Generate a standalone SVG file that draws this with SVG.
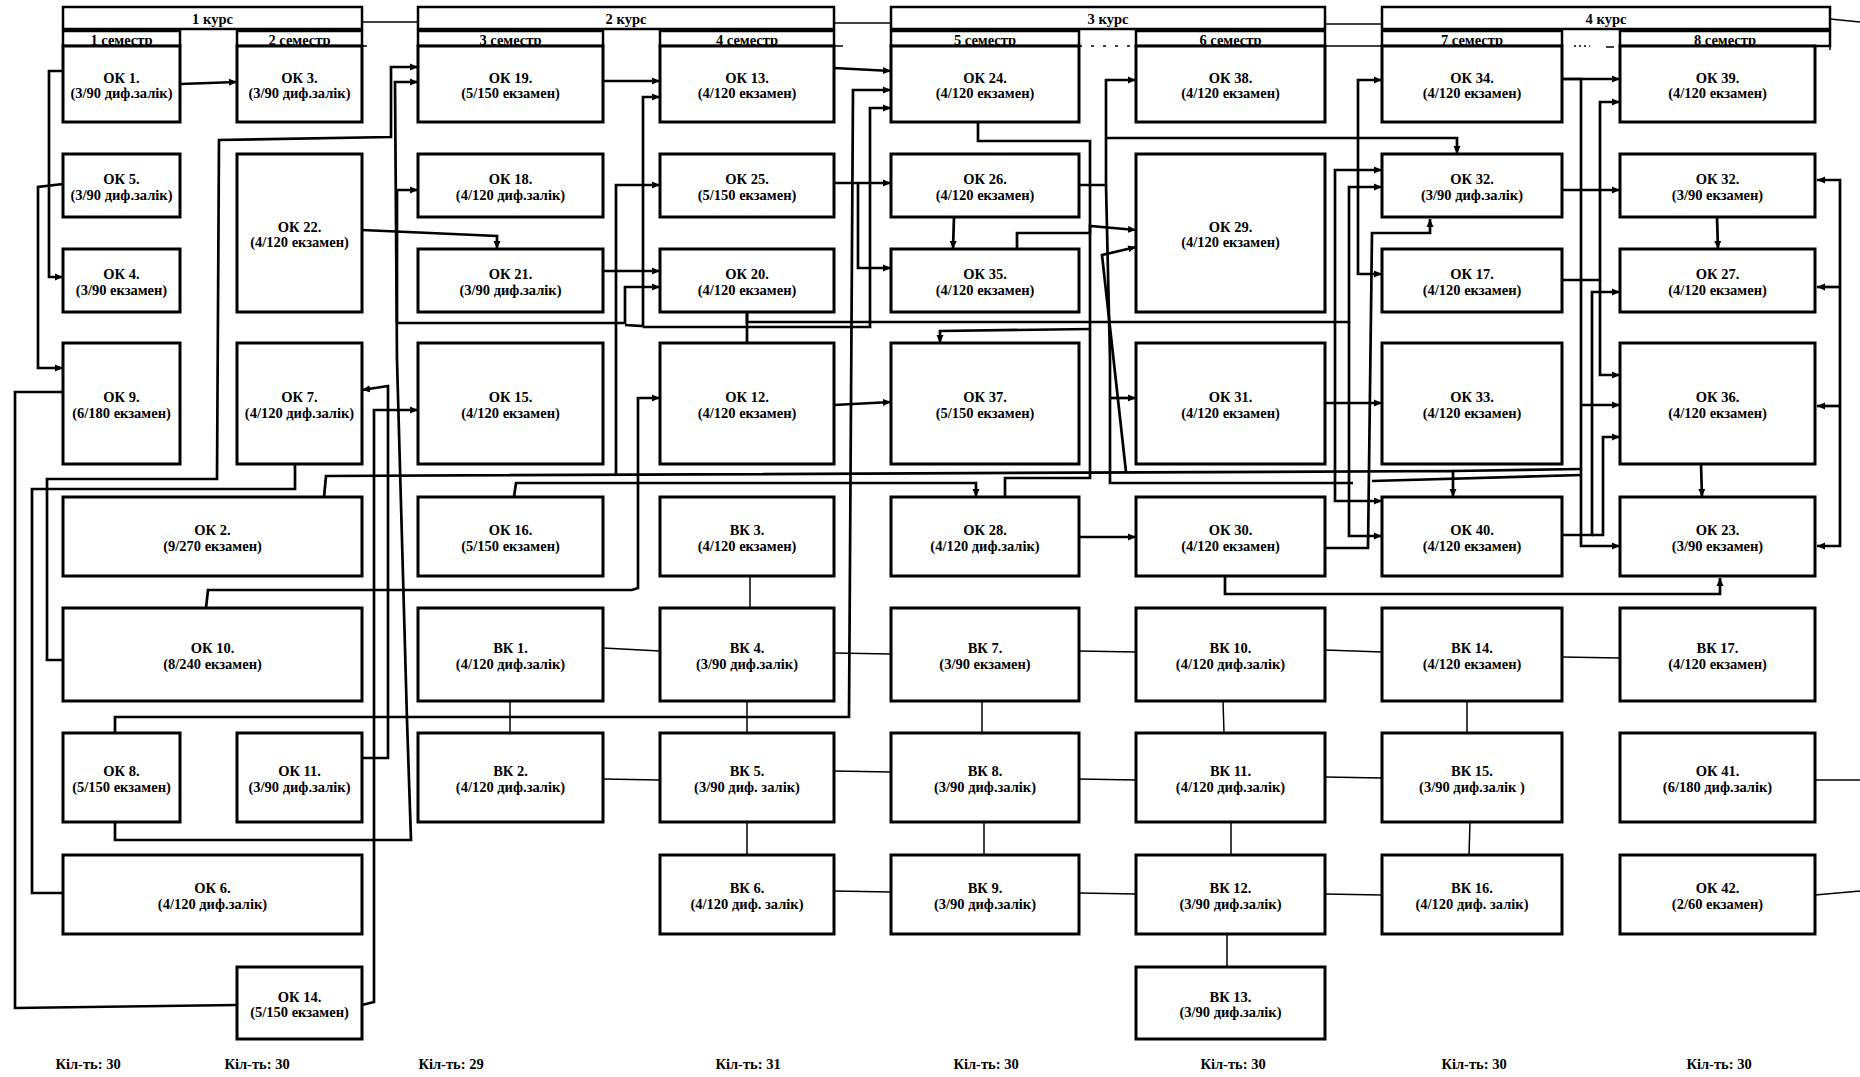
<svg xmlns="http://www.w3.org/2000/svg" width="1860" height="1077" viewBox="0 0 1860 1077">
<style>
.bg{fill:#fff}
.n{fill:#fff;stroke:#000;stroke-width:3}
.h{fill:#fff;stroke:#000;stroke-width:2.5}
.t{font-family:"Liberation Serif","DejaVu Serif",serif;font-weight:bold;font-size:14.5px;text-anchor:middle;fill:#000}
.c{fill:none;stroke:#000;stroke-width:2.7;stroke-linejoin:miter}
.a{fill:none;stroke:#000;stroke-width:2.7;marker-end:url(#ar)}
.l{fill:none;stroke:#000;stroke-width:1.5}
</style>
<defs>
<marker id="ar" markerUnits="userSpaceOnUse" viewBox="0 0 8 8" refX="8" refY="4" markerWidth="8" markerHeight="8" orient="auto">
<path d="M0,0.5 L8,4 L0,7.5 z" fill="#000"/>
</marker>
</defs>
<rect class="bg" x="0" y="0" width="1860" height="1077"/>

<g id="headers">
<line class="l" x1="362" y1="22" x2="418" y2="22"/>
<line class="l" x1="834" y1="23" x2="891" y2="23"/>
<line class="l" x1="1325" y1="24" x2="1382" y2="24"/>
<line class="l" x1="1830" y1="19" x2="1860" y2="22"/>
<line class="l" x1="362" y1="46" x2="367" y2="46"/>
<line class="l" x1="834" y1="46" x2="843" y2="46"/>
<line class="l" x1="1079" y1="46" x2="1136" y2="46" stroke-dasharray="3,9"/>
<line class="l" x1="1325" y1="46" x2="1382" y2="46"/>
<line class="l" x1="1574" y1="46" x2="1590" y2="46" stroke-dasharray="2,3"/>
<line class="l" x1="1606" y1="47" x2="1614" y2="47"/>
<line class="l" x1="1830" y1="31" x2="1830" y2="50"/>
<g id="kurs1"><rect class="h" x="63" y="7" width="299" height="22"/><text class="t" x="212.5" y="24">1 курс</text></g>
<g id="kurs2"><rect class="h" x="418" y="7" width="416" height="22"/><text class="t" x="626" y="24">2 курс</text></g>
<g id="kurs3"><rect class="h" x="891" y="7" width="434" height="22"/><text class="t" x="1108" y="24">3 курс</text></g>
<g id="kurs4"><rect class="h" x="1382" y="7" width="448" height="22"/><text class="t" x="1606" y="24">4 курс</text></g>
<g id="sem1"><rect class="h" x="63" y="31" width="117" height="15"/><text class="t" x="121.5" y="44.5">1 семестр</text></g>
<g id="sem2"><rect class="h" x="237" y="31" width="125" height="15"/><text class="t" x="299.5" y="44.5">2 семестр</text></g>
<g id="sem3"><rect class="h" x="418" y="31" width="185" height="15"/><text class="t" x="510.5" y="44.5">3 семестр</text></g>
<g id="sem4"><rect class="h" x="660" y="31" width="174" height="15"/><text class="t" x="747" y="44.5">4 семестр</text></g>
<g id="sem5"><rect class="h" x="891" y="31" width="188" height="15"/><text class="t" x="985" y="44.5">5 семестр</text></g>
<g id="sem6"><rect class="h" x="1136" y="31" width="189" height="15"/><text class="t" x="1230.5" y="44.5">6 семестр</text></g>
<g id="sem7"><rect class="h" x="1382" y="31" width="180" height="15"/><text class="t" x="1472" y="44.5">7 семестр</text></g>
<g id="sem8"><rect class="h" x="1620" y="31" width="210" height="15"/><text class="t" x="1725" y="44.5">8 семестр</text></g>
</g>

<g id="connectors">
<path class="a" d="M63,71 H49 V277 H63"/>
<path class="a" d="M180,84 L237,82"/>
<path class="a" d="M63,184 L38,187 V368 H63"/>
<path class="c" d="M63,392 H15 V1008 L237,1005"/>
<path class="a" d="M63,660 H47 V479 H217 L219,140 L391,137 V67 H418"/>
<path class="c" d="M295,464 V489 H32 V893 H63"/>
<path class="a" d="M362,230 L497,236 V249"/>
<path class="a" d="M362,758 H388 V386 L362,390"/>
<path class="a" d="M362,1005 L374,1002 V410 H418"/>
<path class="a" d="M115,822 V840 H411 L407,720 L397,360 L395,82 H418"/>
<path class="a" d="M115,733 V717 H849 L853,90 H891"/>
<path class="a" d="M324,497 L326,476 L1453,471 V497"/>
<path class="a" d="M616,476 V185 H660"/>
<path class="c" d="M1453,471 L1581,469"/>
<path class="a" d="M514,497 L516,483 H976 V497"/>
<path class="a" d="M397,323 V190 H418"/>
<path class="a" d="M397,323 H625 V287 H660"/>
<path class="a" d="M625,325 L643,326 V97 H660"/>
<path class="a" d="M643,327 H870 V108 H891"/>
<path class="a" d="M603,81 H660"/>
<path class="a" d="M603,271 H660"/>
<path class="a" d="M206,608 L208,590 H632 L638,588 V398 H660"/>
<path class="a" d="M834,68 L891,71"/>
<path class="a" d="M834,183 H891"/>
<path class="a" d="M858,183 V268 H891"/>
<path class="a" d="M834,405 L891,402"/>
<path class="c" d="M747,312 V343"/>
<path class="a" d="M747,312 V322 H1349 V187 H1382"/>
<path class="a" d="M1349,322 V536 H1382"/>
<path class="a" d="M954,217 L953,249"/>
<path class="c" d="M978,122 V141 H1090 V478 H1005 V497"/>
<path class="a" d="M1017,249 V233 H1090 V226 L1136,230"/>
<path class="a" d="M1090,329 L940,331 V343"/>
<path class="a" d="M1126,472 L1102,255 L1136,247"/>
<path class="a" d="M1079,185 H1106 V80 H1136"/>
<path class="a" d="M1106,138 H1457 V154"/>
<path class="c" d="M1106,185 L1110,360 V483 H1353"/>
<path class="a" d="M1110,398 H1136"/>
<path class="a" d="M1079,537 H1136"/>
<path class="a" d="M1225,576 V594 H1720 V578"/>
<path class="a" d="M1325,403 H1382"/>
<path class="a" d="M1325,548 H1368 L1372,233 H1430 V219"/>
<path class="a" d="M1335,322 V170 H1382"/>
<path class="a" d="M1335,322 V501 H1382"/>
<path class="a" d="M1358,177 V80 H1382"/>
<path class="a" d="M1358,177 V274 H1382"/>
<path class="c" d="M1372,481 L1582,475"/>
<path class="a" d="M1562,79 H1620"/>
<path class="a" d="M1562,79 H1581 V546 H1620"/>
<path class="a" d="M1581,405 H1620"/>
<path class="a" d="M1562,280 H1600 V102 H1620"/>
<path class="a" d="M1600,280 V375 H1620"/>
<path class="a" d="M1562,190 H1620"/>
<path class="a" d="M1717,217 L1718,249"/>
<path class="a" d="M1701,464 L1702,497"/>
<path class="a" d="M1840,360 V180 H1817"/>
<path class="a" d="M1840,360 V546 H1817"/>
<path class="a" d="M1840,287 H1817"/>
<path class="a" d="M1840,406 H1817"/>
<path class="a" d="M1562,535 H1592 V292 H1620"/>
<path class="a" d="M1592,535 H1603 V437 H1620"/>
<path class="l" d="M510,701 V733"/>
<path class="l" d="M603,648 L660,651"/>
<path class="l" d="M750,576 V608"/>
<path class="l" d="M834,653 L891,654"/>
<path class="l" d="M1079,651 L1136,652"/>
<path class="l" d="M1325,650 L1382,652"/>
<path class="l" d="M1562,657 L1620,658"/>
<path class="l" d="M747,701 V733"/>
<path class="l" d="M982,701 V733"/>
<path class="l" d="M1223,701 L1224,733"/>
<path class="l" d="M1467,701 V733"/>
<path class="l" d="M603,779 L660,780"/>
<path class="l" d="M834,771 L891,772"/>
<path class="l" d="M1079,779 L1136,780"/>
<path class="l" d="M1325,777 L1382,778"/>
<path class="l" d="M747,822 V855"/>
<path class="l" d="M984,822 V855"/>
<path class="l" d="M1231,822 V855"/>
<path class="l" d="M1470,822 L1469,855"/>
<path class="l" d="M834,891 L891,892"/>
<path class="l" d="M1079,893 L1136,894"/>
<path class="l" d="M1325,894 L1382,895"/>
<path class="l" d="M1227,934 V967"/>
<path class="l" d="M1815,780 H1860"/>
<path class="l" d="M1815,895 L1860,891"/>
</g>

<g id="nodes">
<g id="ok1"><rect class="n" x="63" y="46" width="117" height="76"/><text class="t"><tspan x="121.5" y="82.5">ОК 1.</tspan><tspan x="121.5" y="98">(3/90 диф.залік)</tspan></text></g>
<g id="ok5"><rect class="n" x="63" y="154" width="117" height="63"/><text class="t"><tspan x="121.5" y="184">ОК 5.</tspan><tspan x="121.5" y="199.5">(3/90 диф.залік)</tspan></text></g>
<g id="ok4"><rect class="n" x="63" y="249" width="117" height="63"/><text class="t"><tspan x="121.5" y="279">ОК 4.</tspan><tspan x="121.5" y="294.5">(3/90 екзамен)</tspan></text></g>
<g id="ok9"><rect class="n" x="63" y="343" width="117" height="121"/><text class="t"><tspan x="121.5" y="402">ОК 9.</tspan><tspan x="121.5" y="417.5">(6/180 екзамен)</tspan></text></g>
<g id="ok8"><rect class="n" x="63" y="733" width="117" height="89"/><text class="t"><tspan x="121.5" y="776">ОК 8.</tspan><tspan x="121.5" y="791.5">(5/150 екзамен)</tspan></text></g>

<g id="ok3"><rect class="n" x="237" y="46" width="125" height="76"/><text class="t"><tspan x="299.5" y="82.5">ОК 3.</tspan><tspan x="299.5" y="98">(3/90 диф.залік)</tspan></text></g>
<g id="ok22"><rect class="n" x="237" y="154" width="125" height="158"/><text class="t"><tspan x="299.5" y="231.5">ОК 22.</tspan><tspan x="299.5" y="247">(4/120 екзамен)</tspan></text></g>
<g id="ok7"><rect class="n" x="237" y="343" width="125" height="121"/><text class="t"><tspan x="299.5" y="402">ОК 7.</tspan><tspan x="299.5" y="417.5">(4/120 диф.залік)</tspan></text></g>
<g id="ok11"><rect class="n" x="237" y="733" width="125" height="89"/><text class="t"><tspan x="299.5" y="776">ОК 11.</tspan><tspan x="299.5" y="791.5">(3/90 диф.залік)</tspan></text></g>
<g id="ok14"><rect class="n" x="237" y="967" width="125" height="72"/><text class="t"><tspan x="299.5" y="1001.5">ОК 14.</tspan><tspan x="299.5" y="1017">(5/150 екзамен)</tspan></text></g>

<g id="ok2"><rect class="n" x="63" y="497" width="299" height="79"/><text class="t"><tspan x="212.5" y="535">ОК 2.</tspan><tspan x="212.5" y="550.5">(9/270 екзамен)</tspan></text></g>
<g id="ok10"><rect class="n" x="63" y="608" width="299" height="93"/><text class="t"><tspan x="212.5" y="653">ОК 10.</tspan><tspan x="212.5" y="668.5">(8/240 екзамен)</tspan></text></g>
<g id="ok6"><rect class="n" x="63" y="855" width="299" height="79"/><text class="t"><tspan x="212.5" y="893">ОК 6.</tspan><tspan x="212.5" y="908.5">(4/120 диф.залік)</tspan></text></g>

<g id="ok19"><rect class="n" x="418" y="46" width="185" height="76"/><text class="t"><tspan x="510.5" y="82.5">ОК 19.</tspan><tspan x="510.5" y="98">(5/150 екзамен)</tspan></text></g>
<g id="ok18"><rect class="n" x="418" y="154" width="185" height="63"/><text class="t"><tspan x="510.5" y="184">ОК 18.</tspan><tspan x="510.5" y="199.5">(4/120 диф.залік)</tspan></text></g>
<g id="ok21"><rect class="n" x="418" y="249" width="185" height="63"/><text class="t"><tspan x="510.5" y="279">ОК 21.</tspan><tspan x="510.5" y="294.5">(3/90 диф.залік)</tspan></text></g>
<g id="ok15"><rect class="n" x="418" y="343" width="185" height="121"/><text class="t"><tspan x="510.5" y="402">ОК 15.</tspan><tspan x="510.5" y="417.5">(4/120 екзамен)</tspan></text></g>
<g id="ok16"><rect class="n" x="418" y="497" width="185" height="79"/><text class="t"><tspan x="510.5" y="535">ОК 16.</tspan><tspan x="510.5" y="550.5">(5/150 екзамен)</tspan></text></g>
<g id="vk1"><rect class="n" x="418" y="608" width="185" height="93"/><text class="t"><tspan x="510.5" y="653">ВК 1.</tspan><tspan x="510.5" y="668.5">(4/120 диф.залік)</tspan></text></g>
<g id="vk2"><rect class="n" x="418" y="733" width="185" height="89"/><text class="t"><tspan x="510.5" y="776">ВК 2.</tspan><tspan x="510.5" y="791.5">(4/120 диф.залік)</tspan></text></g>

<g id="ok13"><rect class="n" x="660" y="46" width="174" height="76"/><text class="t"><tspan x="747" y="82.5">ОК 13.</tspan><tspan x="747" y="98">(4/120 екзамен)</tspan></text></g>
<g id="ok25"><rect class="n" x="660" y="154" width="174" height="63"/><text class="t"><tspan x="747" y="184">ОК 25.</tspan><tspan x="747" y="199.5">(5/150 екзамен)</tspan></text></g>
<g id="ok20"><rect class="n" x="660" y="249" width="174" height="63"/><text class="t"><tspan x="747" y="279">ОК 20.</tspan><tspan x="747" y="294.5">(4/120 екзамен)</tspan></text></g>
<g id="ok12"><rect class="n" x="660" y="343" width="174" height="121"/><text class="t"><tspan x="747" y="402">ОК 12.</tspan><tspan x="747" y="417.5">(4/120 екзамен)</tspan></text></g>
<g id="vk3"><rect class="n" x="660" y="497" width="174" height="79"/><text class="t"><tspan x="747" y="535">ВК 3.</tspan><tspan x="747" y="550.5">(4/120 екзамен)</tspan></text></g>
<g id="vk4"><rect class="n" x="660" y="608" width="174" height="93"/><text class="t"><tspan x="747" y="653">ВК 4.</tspan><tspan x="747" y="668.5">(3/90 диф.залік)</tspan></text></g>
<g id="vk5"><rect class="n" x="660" y="733" width="174" height="89"/><text class="t"><tspan x="747" y="776">ВК 5.</tspan><tspan x="747" y="791.5">(3/90 диф. залік)</tspan></text></g>
<g id="vk6"><rect class="n" x="660" y="855" width="174" height="79"/><text class="t"><tspan x="747" y="893">ВК 6.</tspan><tspan x="747" y="908.5">(4/120 диф. залік)</tspan></text></g>

<g id="ok24"><rect class="n" x="891" y="46" width="188" height="76"/><text class="t"><tspan x="985" y="82.5">ОК 24.</tspan><tspan x="985" y="98">(4/120 екзамен)</tspan></text></g>
<g id="ok26"><rect class="n" x="891" y="154" width="188" height="63"/><text class="t"><tspan x="985" y="184">ОК 26.</tspan><tspan x="985" y="199.5">(4/120 екзамен)</tspan></text></g>
<g id="ok35"><rect class="n" x="891" y="249" width="188" height="63"/><text class="t"><tspan x="985" y="279">ОК 35.</tspan><tspan x="985" y="294.5">(4/120 екзамен)</tspan></text></g>
<g id="ok37"><rect class="n" x="891" y="343" width="188" height="121"/><text class="t"><tspan x="985" y="402">ОК 37.</tspan><tspan x="985" y="417.5">(5/150 екзамен)</tspan></text></g>
<g id="ok28"><rect class="n" x="891" y="497" width="188" height="79"/><text class="t"><tspan x="985" y="535">ОК 28.</tspan><tspan x="985" y="550.5">(4/120 диф.залік)</tspan></text></g>
<g id="vk7"><rect class="n" x="891" y="608" width="188" height="93"/><text class="t"><tspan x="985" y="653">ВК 7.</tspan><tspan x="985" y="668.5">(3/90 екзамен)</tspan></text></g>
<g id="vk8"><rect class="n" x="891" y="733" width="188" height="89"/><text class="t"><tspan x="985" y="776">ВК 8.</tspan><tspan x="985" y="791.5">(3/90 диф.залік)</tspan></text></g>
<g id="vk9"><rect class="n" x="891" y="855" width="188" height="79"/><text class="t"><tspan x="985" y="893">ВК 9.</tspan><tspan x="985" y="908.5">(3/90 диф.залік)</tspan></text></g>

<g id="ok38"><rect class="n" x="1136" y="46" width="189" height="76"/><text class="t"><tspan x="1230.5" y="82.5">ОК 38.</tspan><tspan x="1230.5" y="98">(4/120 екзамен)</tspan></text></g>
<g id="ok29"><rect class="n" x="1136" y="154" width="189" height="158"/><text class="t"><tspan x="1230.5" y="231.5">ОК 29.</tspan><tspan x="1230.5" y="247">(4/120 екзамен)</tspan></text></g>
<g id="ok31"><rect class="n" x="1136" y="343" width="189" height="121"/><text class="t"><tspan x="1230.5" y="402">ОК 31.</tspan><tspan x="1230.5" y="417.5">(4/120 екзамен)</tspan></text></g>
<g id="ok30"><rect class="n" x="1136" y="497" width="189" height="79"/><text class="t"><tspan x="1230.5" y="535">ОК 30.</tspan><tspan x="1230.5" y="550.5">(4/120 екзамен)</tspan></text></g>
<g id="vk10"><rect class="n" x="1136" y="608" width="189" height="93"/><text class="t"><tspan x="1230.5" y="653">ВК 10.</tspan><tspan x="1230.5" y="668.5">(4/120 диф.залік)</tspan></text></g>
<g id="vk11"><rect class="n" x="1136" y="733" width="189" height="89"/><text class="t"><tspan x="1230.5" y="776">ВК 11.</tspan><tspan x="1230.5" y="791.5">(4/120 диф.залік)</tspan></text></g>
<g id="vk12"><rect class="n" x="1136" y="855" width="189" height="79"/><text class="t"><tspan x="1230.5" y="893">ВК 12.</tspan><tspan x="1230.5" y="908.5">(3/90 диф.залік)</tspan></text></g>
<g id="vk13"><rect class="n" x="1136" y="967" width="189" height="72"/><text class="t"><tspan x="1230.5" y="1001.5">ВК 13.</tspan><tspan x="1230.5" y="1017">(3/90 диф.залік)</tspan></text></g>

<g id="ok34"><rect class="n" x="1382" y="46" width="180" height="76"/><text class="t"><tspan x="1472" y="82.5">ОК 34.</tspan><tspan x="1472" y="98">(4/120 екзамен)</tspan></text></g>
<g id="ok32a"><rect class="n" x="1382" y="154" width="180" height="63"/><text class="t"><tspan x="1472" y="184">ОК 32.</tspan><tspan x="1472" y="199.5">(3/90 диф.залік)</tspan></text></g>
<g id="ok17"><rect class="n" x="1382" y="249" width="180" height="63"/><text class="t"><tspan x="1472" y="279">ОК 17.</tspan><tspan x="1472" y="294.5">(4/120 екзамен)</tspan></text></g>
<g id="ok33"><rect class="n" x="1382" y="343" width="180" height="121"/><text class="t"><tspan x="1472" y="402">ОК 33.</tspan><tspan x="1472" y="417.5">(4/120 екзамен)</tspan></text></g>
<g id="ok40"><rect class="n" x="1382" y="497" width="180" height="79"/><text class="t"><tspan x="1472" y="535">ОК 40.</tspan><tspan x="1472" y="550.5">(4/120 екзамен)</tspan></text></g>
<g id="vk14"><rect class="n" x="1382" y="608" width="180" height="93"/><text class="t"><tspan x="1472" y="653">ВК 14.</tspan><tspan x="1472" y="668.5">(4/120 екзамен)</tspan></text></g>
<g id="vk15"><rect class="n" x="1382" y="733" width="180" height="89"/><text class="t"><tspan x="1472" y="776">ВК 15.</tspan><tspan x="1472" y="791.5">(3/90 диф.залік )</tspan></text></g>
<g id="vk16"><rect class="n" x="1382" y="855" width="180" height="79"/><text class="t"><tspan x="1472" y="893">ВК 16.</tspan><tspan x="1472" y="908.5">(4/120 диф. залік)</tspan></text></g>

<g id="ok39"><rect class="n" x="1620" y="46" width="195" height="76"/><text class="t"><tspan x="1717.5" y="82.5">ОК 39.</tspan><tspan x="1717.5" y="98">(4/120 екзамен)</tspan></text></g>
<g id="ok32b"><rect class="n" x="1620" y="154" width="195" height="63"/><text class="t"><tspan x="1717.5" y="184">ОК 32.</tspan><tspan x="1717.5" y="199.5">(3/90 екзамен)</tspan></text></g>
<g id="ok27"><rect class="n" x="1620" y="249" width="195" height="63"/><text class="t"><tspan x="1717.5" y="279">ОК 27.</tspan><tspan x="1717.5" y="294.5">(4/120 екзамен)</tspan></text></g>
<g id="ok36"><rect class="n" x="1620" y="343" width="195" height="121"/><text class="t"><tspan x="1717.5" y="402">ОК 36.</tspan><tspan x="1717.5" y="417.5">(4/120 екзамен)</tspan></text></g>
<g id="ok23"><rect class="n" x="1620" y="497" width="195" height="79"/><text class="t"><tspan x="1717.5" y="535">ОК 23.</tspan><tspan x="1717.5" y="550.5">(3/90 екзамен)</tspan></text></g>
<g id="vk17"><rect class="n" x="1620" y="608" width="195" height="93"/><text class="t"><tspan x="1717.5" y="653">ВК 17.</tspan><tspan x="1717.5" y="668.5">(4/120 екзамен)</tspan></text></g>
<g id="ok41"><rect class="n" x="1620" y="733" width="195" height="89"/><text class="t"><tspan x="1717.5" y="776">ОК 41.</tspan><tspan x="1717.5" y="791.5">(6/180 диф.залік)</tspan></text></g>
<g id="ok42"><rect class="n" x="1620" y="855" width="195" height="79"/><text class="t"><tspan x="1717.5" y="893">ОК 42.</tspan><tspan x="1717.5" y="908.5">(2/60 екзамен)</tspan></text></g>
</g>

<g id="totals">
<text class="t" x="88" y="1069">Кіл-ть: 30</text>
<text class="t" x="257" y="1069">Кіл-ть: 30</text>
<text class="t" x="451" y="1069">Кіл-ть: 29</text>
<text class="t" x="748" y="1069">Кіл-ть: 31</text>
<text class="t" x="986" y="1069">Кіл-ть: 30</text>
<text class="t" x="1233" y="1069">Кіл-ть: 30</text>
<text class="t" x="1474" y="1069">Кіл-ть: 30</text>
<text class="t" x="1719" y="1069">Кіл-ть: 30</text>
</g>
</svg>
